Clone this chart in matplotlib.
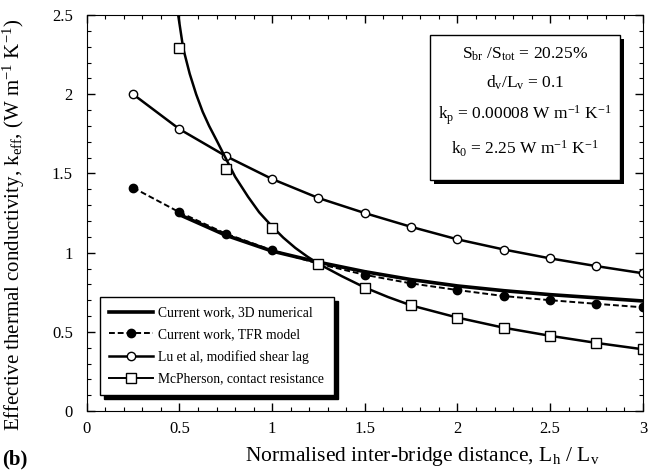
import matplotlib.pyplot as plt
import matplotlib.patheffects as pe
from matplotlib.patches import Rectangle
from matplotlib.ticker import MultipleLocator

plt.rcParams['font.family'] = ['Liberation Serif', 'DejaVu Serif']
plt.rcParams['mathtext.fontset'] = 'custom'
plt.rcParams['mathtext.rm'] = 'Liberation Serif'
plt.rcParams['mathtext.it'] = 'Liberation Serif'

# values
x_pts = [0.25, 0.5, 0.75, 1.0, 1.25, 1.5, 1.75, 2.0, 2.25, 2.5, 2.75, 3.0]
lu = [2.0, 1.78, 1.61, 1.465, 1.345, 1.25, 1.163, 1.084, 1.02, 0.964, 0.915, 0.87]
tfr = [1.41, 1.255, 1.12, 1.015, 0.93, 0.86, 0.806, 0.764, 0.726, 0.70, 0.677, 0.655]

x_num = [0.5, 0.75, 1.0, 1.25, 1.5, 1.75, 2.0, 2.25, 2.5, 2.75, 3.0]
num3d = [1.24, 1.11, 1.01, 0.94, 0.88, 0.83, 0.79, 0.76, 0.735, 0.715, 0.695]

x_mcp = [0.5, 0.75, 1.0, 1.25, 1.5, 1.75, 2.0, 2.25, 2.5, 2.75, 3.0]
mcp = [2.29, 1.53, 1.157, 0.93, 0.78, 0.667, 0.59, 0.526, 0.475, 0.43, 0.39]
# McPherson curve
x_mcp_line = [0.493, 0.52, 0.555, 0.59, 0.625, 0.66, 0.70, 0.736, 0.80, 0.87, 0.93,
              1.0, 1.06, 1.125, 1.19, 1.25, 1.375, 1.5, 1.625, 1.75, 2.0, 2.25,
              2.5, 2.75, 3.0]
mcp_line = [2.5, 2.29, 2.13, 2.0, 1.89, 1.80, 1.71, 1.627, 1.48, 1.353, 1.255,
            1.165, 1.095, 1.03, 0.975, 0.93, 0.852, 0.78, 0.72, 0.667, 0.59, 0.526,
            0.475, 0.43, 0.39]

labels = ['Current work, 3D numerical', 'Current work, TFR model',
          'Lu et al, modified shear lag', 'McPherson, contact resistance']

fig = plt.figure(figsize=(6.48, 4.73), dpi=100)
ax = fig.add_axes([0.134, 0.131, 0.858, 0.837])

h1, = ax.plot(x_num, num3d, '-', color='k', lw=2.6)
h2, = ax.plot(x_pts, tfr, '--', color='k', lw=1.4, marker='o', ms=6,
              markerfacecolor='k', dashes=(3, 1.5))
h3, = ax.plot(x_pts, lu, '-', color='k', lw=1.8, marker='o', ms=6,
              markerfacecolor='white', markeredgewidth=1)
ax.plot(x_mcp_line, mcp_line, '-', color='k', lw=1.8)
ax.plot(x_mcp, mcp, 's', color='k', ms=6.5, markerfacecolor='white', markeredgewidth=1)
h4, = ax.plot([], [], '-', color='k', lw=1.4, marker='s', ms=6.5,
              markerfacecolor='white', markeredgewidth=1)

ax.set_xlim(0, 3)
ax.set_ylim(0, 2.5)
ax.xaxis.set_major_locator(MultipleLocator(0.5))
ax.xaxis.set_minor_locator(MultipleLocator(0.1))
ax.yaxis.set_major_locator(MultipleLocator(0.5))
ax.yaxis.set_minor_locator(MultipleLocator(0.1))
ax.tick_params(which='both', direction='in', top=True, right=True, labelsize=12)
ax.tick_params(which='major', length=6, width=1)
ax.tick_params(which='minor', length=3, width=0.8)
ax.tick_params(axis='x', pad=7)
ax.tick_params(axis='y', pad=10)
ax.set_xticks([0, 0.5, 1, 1.5, 2, 2.5, 3], ['0', '0.5', '1', '1.5', '2', '2.5', '3'])
ax.set_yticks([0, 0.5, 1, 1.5, 2, 2.5], ['0', '0.5', '1', '1.5', '2', '2.5'])

ax.set_xlabel('Normalised inter-bridge distance, L$_\\mathrm{h}$ / L$_\\mathrm{v}$',
              fontsize=15.5)
ax.xaxis.set_label_coords(0.603, -0.085)
ax.set_ylabel('Effective thermal conductivity, k$_\\mathrm{eff}$, (W m$^{-1}$ K$^{-1}$)',
              fontsize=15)
ax.yaxis.set_label_coords(-0.108, 0.47)

leg = ax.legend([h1, h2, h3, h4], labels, loc='lower left', bbox_to_anchor=(0.023, 0.04),
                fontsize=9.8, handlelength=3.2, frameon=True, fancybox=False,
                edgecolor='k', borderaxespad=0, labelspacing=0.65, handletextpad=0.4,
                borderpad=0.7,
                shadow={'color': 'k', 'alpha': 1, 'ox': 3, 'oy': -3})
leg.get_frame().set_linewidth(1)

# parameter box, upper right
box = Rectangle((0.617, 0.583), 0.342, 0.366, transform=ax.transAxes,
                facecolor='white', edgecolor='k', lw=1, zorder=5)
box.set_path_effects([pe.SimplePatchShadow(offset=(3, -3), shadow_rgbFace='k', alpha=1),
                      pe.Normal()])
ax.add_patch(box)
txt = ('S$_\\mathrm{br}$ /S$_\\mathrm{tot}$ = 20.25%\n'
       'd$_\\mathrm{v}$/L$_\\mathrm{v}$ = 0.1\n'
       'k$_\\mathrm{p}$ = 0.00008 W m$^{-1}$ K$^{-1}$\n'
       'k$_\\mathrm{0}$ = 2.25 W m$^{-1}$ K$^{-1}$')
ax.text(0.788, 0.78, txt, transform=ax.transAxes, ha='center', va='center',
        fontsize=12.5, linespacing=1.75, zorder=6)

fig.text(0.004, 0.018, '(b)', fontsize=15, fontweight='bold')

fig.savefig('out.png', dpi=100)
